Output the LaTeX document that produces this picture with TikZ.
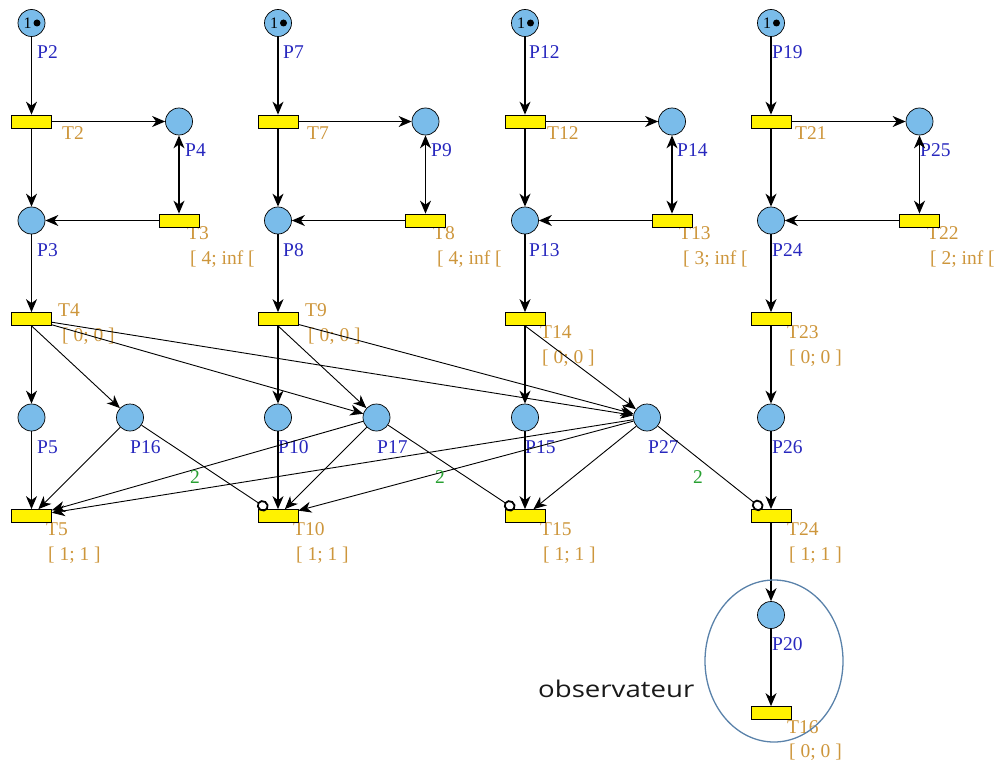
\documentclass[tikz,border=0pt]{standalone}
\usepackage{fontspec}
\usetikzlibrary{arrows.meta}
\newfontfamily\pnserif{Liberation Serif}
\newfontfamily\pnobs[FakeStretch=1.2]{Open Sans}
\newcommand\pnlbl{\pnserif\fontsize{19.5}{22}\selectfont}
\definecolor{placeblue}{RGB}{122,188,234}
\definecolor{plblue}{RGB}{40,40,190}
\definecolor{tlorange}{RGB}{205,150,60}
\definecolor{wgreen}{RGB}{40,160,50}
\definecolor{ellblue}{RGB}{90,130,170}
\tikzset{
 place/.style={circle, draw=black, line width=0.7pt, fill=placeblue, minimum size=27pt, inner sep=0pt},
 trans/.style={rectangle, draw=black, line width=0.7pt, fill=yellow, minimum width=40pt, minimum height=13pt, inner sep=0pt},
 plabel/.style={anchor=base west, text=plblue, font=\pnlbl, inner sep=0pt},
 tlabel/.style={anchor=base west, text=tlorange, font=\pnlbl, inner sep=0pt},
 wlabel/.style={text=wgreen, font=\pnlbl, inner sep=0pt},
 pnarc/.style={draw=black, line width=1.4pt, -{Stealth[length=13pt,width=11pt,inset=4pt]}},
 pndiag/.style={draw=black, line width=0.9pt, -{Stealth[length=13pt,width=11pt,inset=4pt]}},
 pnboth/.style={draw=black, line width=1.4pt, {Stealth[length=13pt,width=11pt,inset=4pt]}-{Stealth[length=13pt,width=11pt,inset=4pt]}},
 pninh/.style={draw=black, line width=0.9pt, -{Circle[open,length=12pt,width=11pt,line width=1.8pt]}},
}
\begin{document}
\begin{tikzpicture}[x=1pt,y=-1pt]
\useasboundingbox (0,0) rectangle (995,762);
% ---------- labels (drawn first, under the shapes)
\node[plabel] (lP2) at (37,59) {P2};
\node[plabel] (lP7) at (283,59) {P7};
\node[plabel] (lP12) at (529,59) {P12};
\node[plabel] (lP19) at (772,59) {P19};
\node[plabel] (lP4) at (185,157) {P4};
\node[plabel] (lP9) at (431,157) {P9};
\node[plabel] (lP14) at (677,157) {P14};
\node[plabel] (lP25) at (920,157) {P25};
\node[plabel] (lP3) at (37,256) {P3};
\node[plabel] (lP8) at (283,256) {P8};
\node[plabel] (lP13) at (529,256) {P13};
\node[plabel] (lP24) at (772,256) {P24};
\node[plabel] (lP5) at (37,453) {P5};
\node[plabel] (lP16) at (130,453) {P16};
\node[plabel] (lP10) at (278,453) {P10};
\node[plabel] (lP17) at (377,453) {P17};
\node[plabel] (lP15) at (525,453) {P15};
\node[plabel] (lP27) at (648,453) {P27};
\node[plabel] (lP26) at (772,453) {P26};
\node[plabel] (lP20) at (772,650) {P20};
\node[tlabel] (lT2) at (62,140) {T2};
\node[tlabel] (lT7) at (307,140) {T7};
\node[tlabel] (lT12) at (547,140) {T12};
\node[tlabel] (lT21) at (795,140) {T21};
\node[tlabel] (lT3) at (187,239) {T3};
\node[tlabel] (lT8) at (433,239) {T8};
\node[tlabel] (lT13) at (679,239) {T13};
\node[tlabel] (lT22) at (927,239) {T22};
\node[tlabel] (iT3) at (190,264) {[ 4; inf [};
\node[tlabel] (iT8) at (437,264) {[ 4; inf [};
\node[tlabel] (iT13) at (683,264) {[ 3; inf [};
\node[tlabel] (iT22) at (930,264) {[ 2; inf [};
\node[tlabel] (lT4) at (58,316) {T4};
\node[tlabel] (iT4) at (62,341) {[ 0; 0 ]};
\node[tlabel] (lT9) at (305,316) {T9};
\node[tlabel] (iT9) at (308,341) {[ 0; 0 ]};
\node[tlabel] (lT14) at (540,338) {T14};
\node[tlabel] (iT14) at (542,363) {[ 0; 0 ]};
\node[tlabel] (lT23) at (787,338) {T23};
\node[tlabel] (iT23) at (789,363) {[ 0; 0 ]};
\node[tlabel] (lT5) at (46,535) {T5};
\node[tlabel] (iT5) at (48,560) {[ 1; 1 ]};
\node[tlabel] (lT10) at (293,535) {T10};
\node[tlabel] (iT10) at (296,560) {[ 1; 1 ]};
\node[tlabel] (lT15) at (540,535) {T15};
\node[tlabel] (iT15) at (543,560) {[ 1; 1 ]};
\node[tlabel] (lT24) at (787,535) {T24};
\node[tlabel] (iT24) at (789,560) {[ 1; 1 ]};
\node[tlabel] (lT16) at (787,733) {T16};
\node[tlabel] (iT16) at (789,757) {[ 0; 0 ]};
% ---------- places
\foreach \n/\x in {P2/31.5,P7/278,P12/525,P19/771}{
  \node[place] (\n) at (\x,23) {};
  \node[inner sep=0pt, font=\pnserif\fontsize{16}{16}\selectfont] (tok\n) at ([xshift=-4pt]\n.center) {1};
  \fill (\x+5.5,23) circle (3.5pt);
}
\foreach \n/\x in {P4/179,P9/425.5,P14/672,P25/919.5}{\node[place] (\n) at (\x,121.5) {};}
\foreach \n/\x in {P3/31.5,P8/278,P13/525,P24/771}{\node[place] (\n) at (\x,220.5) {};}
\foreach \n/\x in {P5/31.5,P16/130,P10/278,P17/376.5,P15/525,P27/647,P26/771}{\node[place] (\n) at (\x,417.5) {};}
\node[place] (P20) at (771,615) {};
% ---------- transitions
\foreach \n/\x in {T2/31.5,T7/278,T12/525,T21/771}{\node[trans] (\n) at (\x,121.5) {};}
\foreach \n/\x in {T3/179,T8/425.5,T13/672,T22/919.5}{\node[trans] (\n) at (\x,220.5) {};}
\foreach \n/\x in {T4/31.5,T9/278,T14/525,T23/771}{\node[trans] (\n) at (\x,319) {};}
\foreach \n/\x in {T5/31.5,T10/278,T15/525,T24/771}{\node[trans] (\n) at (\x,516) {};}
\node[trans] (T16) at (771,713) {};
% ---------- upper structure (four copies)
\foreach \a/\b/\c/\d/\e/\f in {P2/T2/P4/T3/P3/T4,P7/T7/P9/T8/P8/T9,P12/T12/P14/T13/P13/T14,P19/T21/P25/T22/P24/T23}{
  \draw[pnarc] (\a) -- (\b);
  \draw[pnarc] (\b) -- (\c);
  \draw[pnboth] (\c) -- (\d);
  \draw[pnarc] (\b) -- (\e);
  \draw[pnarc] (\d) -- (\e);
  \draw[pnarc] (\e) -- (\f);
}
% ---------- lower structure
\draw[pnarc] (T4) -- (P5);
\draw[pndiag] (T4.south) -- (P16);
\draw[pndiag] (T4) -- (P17);
\draw[pndiag] (T4) -- (P27);
\draw[pnarc] (T9) -- (P10);
\draw[pndiag] (T9.south) -- (P17);
\draw[pndiag] (T9) -- (P27);
\draw[pnarc] (T14) -- (P15);
\draw[pndiag] (T14.south) -- (P27);
\draw[pnarc] (T23) -- (P26);
\draw[pnarc] (P5) -- (T5);
\draw[pndiag] (P16) -- (T5);
\draw[pndiag] (P17) -- (T5);
\draw[pndiag] (P27) -- (T5);
\draw[pninh] (P16) -- (T10);
\draw[pnarc] (P10) -- (T10);
\draw[pndiag] (P17) -- (T10);
\draw[pndiag] (P27) -- (T10);
\draw[pninh] (P17) -- (T15);
\draw[pnarc] (P15) -- (T15);
\draw[pndiag] (P27) -- (T15);
\draw[pninh] (P27) -- (T24);
\draw[pnarc] (P26) -- (T24);
\draw[pnarc] (T24) -- (P20);
\draw[pnarc] (P20) -- (T16);
% ---------- weights
\node[wlabel] (w1) at (195,477) {2};
\node[wlabel] (w2) at (440,477) {2};
\node[wlabel] (w3) at (698,477) {2};
% ---------- observer
\draw[ellblue, line width=1.3pt] (774,661) ellipse [x radius=69, y radius=81];
\node[anchor=base west, inner sep=0pt, font=\pnobs\fontsize{23}{26}\selectfont, text=black!90] (obs) at (538,697) {observateur};
\end{tikzpicture}
\end{document}
